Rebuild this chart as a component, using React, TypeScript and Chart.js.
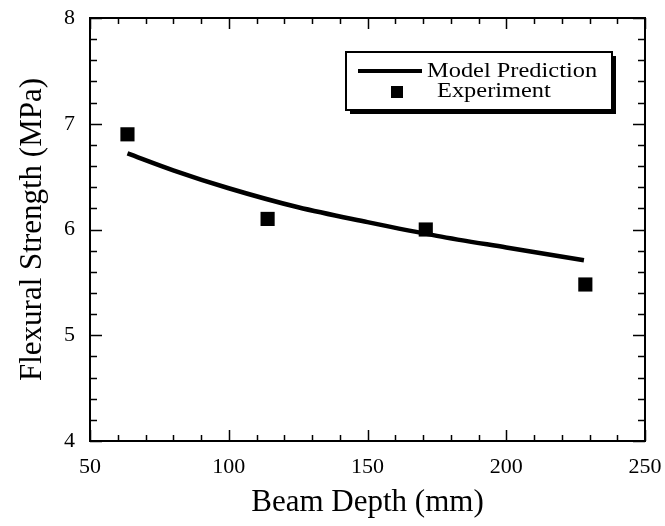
import React, { useEffect, useRef } from "react";
import { Chart, registerables } from "chart.js";

Chart.register(...registerables);

const modelDepth = [63.5, 80, 100, 125, 150, 175, 200, 228];
const modelStrength = [6.72, 6.56, 6.39, 6.21, 6.07, 5.94, 5.83, 5.71];
const expDepth = [63.5, 114, 171, 228.5];
const expStrength = [6.9, 6.1, 6.0, 5.48];
const xTicks = [50, 100, 150, 200, 250];
const yTicks = [4, 5, 6, 7, 8];
const legendLabels = ["Model Prediction", "Experiment"];
const xTitle = "Beam Depth (mm)";
const yTitle = "Flexural Strength (MPa)";

const SERIF = "'Liberation Serif', 'DejaVu Serif', serif";

const framePlugin = {
  id: "frameTicks",
  afterDatasetsDraw(chart: any) {
    const ctx = chart.ctx;
    const { left, right, top, bottom } = chart.chartArea;
    const xs = chart.scales.x;
    const ys = chart.scales.y;
    ctx.save();
    ctx.strokeStyle = "#000";
    ctx.lineWidth = 1.5;
    for (let v = xTicks[0]; v <= xTicks[xTicks.length - 1]; v += 10) {
      const px = Math.round(xs.getPixelForValue(v)) + 0.5;
      const major = (v - xTicks[0]) % 50 === 0;
      const len = major ? 11 : 6;
      ctx.beginPath();
      ctx.moveTo(px, bottom);
      ctx.lineTo(px, bottom - len);
      ctx.moveTo(px, top);
      ctx.lineTo(px, top + len);
      ctx.stroke();
    }
    for (let i = 0; i <= 20; i++) {
      const v = yTicks[0] + i * 0.2;
      const py = Math.round(ys.getPixelForValue(v)) + 0.5;
      const major = i % 5 === 0;
      const len = major ? 12 : 7;
      ctx.beginPath();
      ctx.moveTo(left, py);
      ctx.lineTo(left + len, py);
      ctx.moveTo(right, py);
      ctx.lineTo(right - len, py);
      ctx.stroke();
    }
    ctx.lineWidth = 2;
    ctx.strokeRect(left, top, right - left, bottom - top);

    const bx = left + 256;
    const by = top + 34;
    const bw = 266;
    const bh = 58;
    ctx.fillStyle = "#000";
    ctx.fillRect(bx + 4, by + 4, bw, bh);
    ctx.fillStyle = "#fff";
    ctx.fillRect(bx, by, bw, bh);
    ctx.lineWidth = 2;
    ctx.strokeRect(bx, by, bw, bh);
    ctx.lineWidth = 4;
    ctx.beginPath();
    ctx.moveTo(bx + 12, by + 19);
    ctx.lineTo(bx + 76, by + 19);
    ctx.stroke();
    ctx.fillStyle = "#000";
    ctx.fillRect(bx + 45, by + 34, 12, 12);
    ctx.font = `20px ${SERIF}`;
    ctx.textBaseline = "alphabetic";
    ctx.textAlign = "left";
    ctx.save();
    ctx.translate(bx + 81, by + 25);
    ctx.scale(1.22, 1);
    ctx.fillText(legendLabels[0], 0, 0);
    ctx.restore();
    ctx.save();
    ctx.translate(bx + 91, by + 45);
    ctx.scale(1.22, 1);
    ctx.fillText(legendLabels[1], 0, 0);
    ctx.restore();
    ctx.restore();
  },
};

export default function App() {
  const ref = useRef<HTMLCanvasElement | null>(null);
  useEffect(() => {
    document.body.style.margin = "0";
    if (!ref.current) return;
    const chart = new Chart(ref.current, {
      type: "scatter",
      data: {
        datasets: [
          {
            label: legendLabels[0],
            data: modelDepth.map((x, i) => ({ x, y: modelStrength[i] })),
            showLine: true,
            borderColor: "#000",
            borderWidth: 4.5,
            pointRadius: 0,
            cubicInterpolationMode: "monotone",
            fill: false,
          },
          {
            label: legendLabels[1],
            data: expDepth.map((x, i) => ({ x, y: expStrength[i] })),
            pointStyle: "rect",
            pointRadius: 10,
            backgroundColor: "#000",
            borderColor: "#000",
            borderWidth: 0,
            showLine: false,
          },
        ],
      },
      options: {
        animation: false,
        responsive: false,
        layout: { padding: { top: 18, right: 20, left: 0, bottom: 0 } },
        plugins: { legend: { display: false }, tooltip: { enabled: false } },
        scales: {
          x: {
            type: "linear",
            min: xTicks[0],
            max: xTicks[xTicks.length - 1],
            afterBuildTicks: (s: any) => {
              s.ticks = xTicks.map((v) => ({ value: v }));
            },
            ticks: {
              color: "#000",
              font: { family: SERIF, size: 22 },
              padding: 13,
              maxRotation: 0,
            },
            grid: { display: false, drawTicks: false },
            border: { display: false },
            title: {
              display: true,
              text: xTitle,
              color: "#000",
              font: { family: SERIF, size: 31 },
              padding: { top: 0, bottom: 5 },
            },
            afterFit: (s: any) => {
              s.height = 85;
              s.paddingLeft = 0;
              s.paddingRight = 0;
            },
          },
          y: {
            type: "linear",
            min: yTicks[0],
            max: yTicks[yTicks.length - 1],
            afterBuildTicks: (s: any) => {
              s.ticks = yTicks.map((v) => ({ value: v }));
            },
            ticks: {
              color: "#000",
              font: { family: SERIF, size: 22 },
              padding: 15,
            },
            grid: { display: false, drawTicks: false },
            border: { display: false },
            title: {
              display: true,
              text: yTitle,
              color: "#000",
              font: { family: SERIF, size: 31 },
              padding: { top: 14, bottom: 0 },
            },
            afterFit: (s: any) => {
              s.width = 90;
              s.paddingTop = 0;
              s.paddingBottom = 0;
            },
          },
        },
      },
      plugins: [framePlugin],
    } as any);
    return () => chart.destroy();
  }, []);
  return (
    <div style={{ position: "absolute", left: 0, top: 0, width: 665, height: 526, background: "#fff" }}>
      <canvas ref={ref} width={665} height={526} />
    </div>
  );
}
